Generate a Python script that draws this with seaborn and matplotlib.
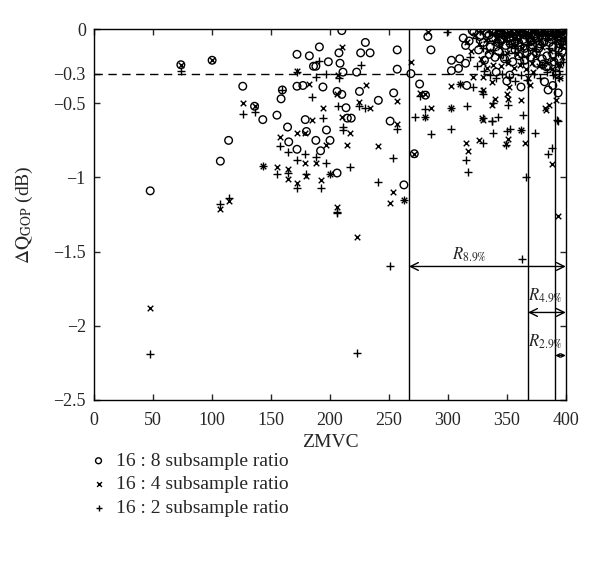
import matplotlib
matplotlib.use("Agg")
import matplotlib.pyplot as plt
import seaborn as sns
import pandas as pd

# 16:8 subsample ratio (open circles)
circ_x = [47.5, 73.5, 100, 126, 136, 143, 114, 107,
          210, 191, 172, 182.5, 198.6, 186, 188, 207.6, 208.5, 211, 230, 226, 234, 257, 257, 222.6,
          172, 177, 194, 159.6, 158.5, 206, 210, 225, 241, 254, 155, 179, 164, 180, 197, 213.6, 214.7,
          218, 165, 188, 200, 172, 192, 206, 251, 262.7,
          271.5, 283, 285.6, 268.6, 276, 281, 303, 310, 315, 303, 309, 316, 320.6, 341, 352.5, 350,
          362, 382, 385, 389, 393.5, 381, 383.6, 392,
          322, 327, 330, 333, 336, 338, 341, 343, 345, 347, 349, 351, 352, 354, 356, 357, 359, 361,
          362, 364, 366, 367, 369, 371, 372, 374, 376, 377, 379, 381, 383, 384, 386, 388, 389, 391,
          393, 395, 396, 398, 399, 397, 394, 390, 385, 380, 375, 370, 365, 360, 355, 348, 340, 335,
          331, 326, 318, 315, 313,
          339, 344, 350, 355, 358, 363, 368, 373, 378, 382, 387, 392, 396, 399, 346, 353, 360, 370,
          378, 386, 394, 398, 335, 342, 357, 365, 375, 389]
circ_y = [-1.09, -0.24, -0.21, -0.385, -0.52, -0.61, -0.75, -0.89,
          -0.01, -0.12, -0.17, -0.18, -0.22, -0.25, -0.25, -0.16, -0.23, -0.29, -0.09, -0.16, -0.16, -0.14, -0.27, -0.29,
          -0.385, -0.38, -0.39, -0.41, -0.47, -0.42, -0.44, -0.42, -0.48, -0.43, -0.58, -0.61, -0.66, -0.69, -0.68, -0.53, -0.60,
          -0.60, -0.76, -0.75, -0.75, -0.81, -0.82, -0.97, -0.62, -1.05,
          -0.84, -0.05, -0.14, -0.30, -0.37, -0.445, -0.21, -0.20, -0.23, -0.28, -0.265, -0.38, -0.01, -0.29, -0.31, -0.35,
          -0.39, -0.355, -0.41, -0.38, -0.43, -0.235, -0.254, -0.30,
          -0.02, -0.05, -0.09, -0.03, -0.12, -0.06, -0.02, -0.15, -0.08, -0.04, -0.11, -0.01, -0.06, -0.14, -0.03, -0.09, -0.05, -0.12,
          -0.02, -0.07, -0.04, -0.16, -0.01, -0.08, -0.11, -0.03, -0.06, -0.13, -0.02, -0.09, -0.04, -0.18, -0.01, -0.07, -0.12, -0.03,
          -0.05, -0.10, -0.02, -0.01, -0.04, -0.15, -0.20, -0.22, -0.25, -0.20, -0.23, -0.19, -0.21, -0.18, -0.22, -0.20, -0.19, -0.17,
          -0.21, -0.14, -0.08, -0.11, -0.06,
          -0.01, -0.03, -0.02, -0.05, -0.01, -0.03, -0.02, -0.05, -0.01, -0.02, -0.04, -0.01, -0.06, -0.08, -0.07, -0.10, -0.09, -0.12,
          -0.10, -0.09, -0.13, -0.11, -0.04, -0.09, -0.14, -0.13, -0.16, -0.17]

# 16:4 subsample ratio (x markers)
cross_x = [47.5, 73.5, 100, 126, 136, 143, 107, 114, 222.6, 251, 205.7,
           210, 171.8, 207, 182.5, 230.5, 206, 256.5, 194, 225, 234, 185, 210, 217, 172, 179, 158, 197,
           214, 241, 179, 188, 155, 164, 164, 180, 192, 200, 172, 253.6, 263, 256.5,
           271.5, 283, 268.6, 276, 280.5, 285.6, 281, 303, 310, 303, 329, 321, 315, 317, 326, 349, 351,
           362, 365, 388, 393, 330, 330, 337, 330, 352, 350, 340, 337, 351, 362, 330, 395, 395, 392,
           386, 383.6, 382, 368, 372, 369.5,
           323, 326, 329, 332, 334, 337, 339, 342, 344, 346, 348, 350, 353, 355, 358, 360, 363, 365,
           368, 370, 373, 375, 378, 380, 382, 385, 387, 390, 392, 394, 396, 398, 399, 397, 393, 388,
           383, 377, 371, 366, 361, 356, 351, 345, 338, 333, 328, 320, 316,
           341, 347, 352, 357, 362, 367, 372, 376, 381, 386, 391, 395, 344, 359, 374, 389]
cross_y = [-1.88, -0.24, -0.21, -0.50, -0.52, -0.92, -1.21, -1.16, -1.40, -1.17, -1.20,
           -0.12, -0.28, -0.31, -0.37, -0.38, -0.44, -0.485, -0.53, -0.49, -0.53, -0.61, -0.59, -0.70, -0.70, -0.70, -0.73, -0.78,
           -0.78, -0.79, -0.905, -0.905, -0.93, -0.945, -1.01, -0.99, -1.02, -0.98, -1.035, -1.10, -1.15, -0.64,
           -0.84, -0.02, -0.22, -0.43, -0.44, -0.53, -0.595, -0.385, -0.37, -0.53, -0.60, -0.32, -0.77, -0.82, -0.75, -0.775, -0.74,
           -0.68, -0.77, -0.91, -1.26, -0.23, -0.32, -0.355, -0.41, -0.39, -0.44, -0.47, -0.51, -0.47, -0.48, -0.61, -0.24, -0.33, -0.48,
           -0.51, -0.545, -0.53, -0.33, -0.29, -0.38,
           -0.04, -0.10, -0.02, -0.07, -0.15, -0.03, -0.09, -0.05, -0.12, -0.02, -0.07, -0.16, -0.04, -0.10, -0.01, -0.07, -0.13, -0.03,
           -0.09, -0.05, -0.14, -0.02, -0.08, -0.12, -0.03, -0.06, -0.15, -0.02, -0.08, -0.04, -0.11, -0.06, -0.01, -0.19, -0.24, -0.27,
           -0.22, -0.25, -0.23, -0.27, -0.24, -0.26, -0.23, -0.25, -0.24, -0.26, -0.20, -0.15, -0.09,
           -0.01, -0.04, -0.02, -0.06, -0.01, -0.04, -0.02, -0.05, -0.01, -0.03, -0.05, -0.02, -0.18, -0.17, -0.18, -0.20]

# 16:2 subsample ratio (+ markers)
plus_x = [73.5, 126, 136, 143.5, 107, 114, 47.5, 222.6, 251, 205.7, 159.6,
          191, 226, 172, 188, 197, 208, 185, 225, 230, 207, 194, 211, 211, 256.5, 158, 164, 172, 179,
          188, 197, 217, 253.6, 155, 164, 180, 200, 172, 192, 241, 263, 206,
          286, 302.5, 315, 317, 330, 338, 337.5, 350, 362, 373.7, 366, 388, 385, 393, 363,
          281, 272, 281, 299, 303, 316, 321, 329, 310, 330, 330, 338, 342.6, 337, 349, 352.5, 351,
          364, 392.6, 394, 276,
          324, 327, 330, 333, 335, 338, 340, 343, 345, 347, 350, 352, 354, 357, 359, 361, 363, 366,
          368, 370, 372, 375, 377, 379, 381, 384, 386, 388, 391, 393, 395, 397, 399, 398, 394, 389,
          384, 378, 373, 367, 362, 357, 352, 346, 341, 336, 331, 325, 319,
          342, 348, 355, 360, 365, 371, 376, 382, 387, 392, 396, 349, 364, 380]
plus_y = [-0.28, -0.57, -0.56, -0.92, -1.18, -1.14, -2.19, -2.18, -1.595, -1.23, -0.41,
          -0.215, -0.24, -0.29, -0.325, -0.30, -0.33, -0.455, -0.52, -0.53, -0.52, -0.60, -0.66, -0.68, -0.67, -0.79, -0.83, -0.88, -0.845,
          -0.86, -0.905, -0.93, -0.87, -0.98, -0.97, -0.98, -0.98, -1.07, -1.07, -1.03, -1.15, -1.24,
          -0.71, -0.67, -0.88, -0.965, -0.77, -0.70, -0.62, -0.685, -0.68, -0.70, -1.00, -0.80, -0.845, -0.62, -1.55,
          -0.54, -0.595, -0.595, -0.02, -0.53, -0.52, -0.39, -0.42, -0.37, -0.60, -0.44, -0.50, -0.595, -0.62, -0.78, -0.675, -0.51,
          -0.58, -0.61, -0.33, -0.45,
          -0.06, -0.01, -0.13, -0.08, -0.02, -0.14, -0.04, -0.09, -0.01, -0.17, -0.05, -0.10, -0.02, -0.13, -0.07, -0.03, -0.19, -0.06,
          -0.11, -0.02, -0.08, -0.15, -0.04, -0.10, -0.01, -0.07, -0.13, -0.03, -0.09, -0.16, -0.05, -0.02, -0.08, -0.22, -0.28, -0.31,
          -0.29, -0.33, -0.30, -0.34, -0.31, -0.35, -0.32, -0.30, -0.33, -0.31, -0.28, -0.25, -0.19,
          -0.03, -0.02, -0.04, -0.01, -0.03, -0.05, -0.02, -0.04, -0.01, -0.03, -0.12, -0.21, -0.23, -0.24]

# coverage ranges (start, label, arrow level)
range_start = [267, 368, 391]
range_label = ['$R_{8.9\\%}$', '$R_{4.9\\%}$', '$R_{2.9\\%}$']
range_y = [-1.6, -1.91, -2.2]

yticks = [0, -0.3, -0.5, -1, -1.5, -2, -2.5]
ytick_labels = ['0', '\u22120.3', '\u22120.5', '\u22121', '\u22121.5', '\u22122', '\u22122.5']

sns.set_style('ticks')
plt.rcParams['font.family'] = ['Liberation Serif', 'DejaVu Serif']
plt.rcParams['mathtext.fontset'] = 'stix'

fig = plt.figure(figsize=(6, 5.71), dpi=100)
ax = fig.add_axes([0.157, 0.2995, 0.786, 0.6495])

df8 = pd.DataFrame({'x': circ_x, 'y': circ_y})
df4 = pd.DataFrame({'x': cross_x, 'y': cross_y})
df2 = pd.DataFrame({'x': plus_x, 'y': plus_y})

sns.scatterplot(data=df8, x='x', y='y', marker='o', s=30, facecolor='none',
                edgecolor='black', linewidth=1.0, ax=ax, label='16 : 8 subsample ratio')
sns.scatterplot(data=df4, x='x', y='y', marker='x', s=16, color='black',
                linewidth=1.0, ax=ax, label='16 : 4 subsample ratio')
sns.scatterplot(data=df2, x='x', y='y', marker='+', s=30, color='black',
                linewidth=1.0, ax=ax, label='16 : 2 subsample ratio')

ax.axhline(-0.3, color='black', ls=(0, (6, 4)), lw=1.0)
heads = [14, 14, 6]
for xs, ya, hs in zip(range_start, range_y, heads):
    ax.axvline(xs, color='black', lw=1.0)
    ax.annotate('', xy=(xs, ya), xytext=(400, ya),
                arrowprops=dict(arrowstyle='<->', color='black', lw=1.0,
                                shrinkA=0, shrinkB=0, mutation_scale=hs))
ax.text(318, -1.52, range_label[0], ha='center', va='center', fontsize=12)
ax.text(383, -1.80, range_label[1], ha='center', va='center', fontsize=12)
ax.text(383, -2.11, range_label[2], ha='center', va='center', fontsize=12)

ax.set_xlim(0, 400)
ax.set_ylim(-2.5, 0)
ax.set_xticks(range(0, 401, 50))
ax.set_yticks(yticks)
ax.set_yticklabels(ytick_labels)
ax.tick_params(direction='in', top=True, right=True, labelsize=13, length=4, width=1)
ax.tick_params(axis='x', pad=9)
ax.tick_params(axis='y', pad=6)
for sp in ax.spines.values():
    sp.set_linewidth(1.0)
    sp.set_color('black')
ax.set_xlabel('ZMVC', fontsize=14, labelpad=3)
ax.set_ylabel('$\\Delta \\mathrm{Q}_{\\mathrm{GOP}}$ (dB)', fontsize=14, labelpad=13)

handles, labels = ax.get_legend_handles_labels()
ax.get_legend().remove()
leg = fig.legend(handles, labels, loc='upper left', bbox_to_anchor=(0.135, 0.225),
                 frameon=False, fontsize=14, handlelength=0.8,
                 handletextpad=0.5, labelspacing=0.3, borderpad=0)
for h, sz in zip(leg.legend_handles, [18, 12, 22]):
    h.set_sizes([sz])

fig.savefig('out.png', dpi=100)
